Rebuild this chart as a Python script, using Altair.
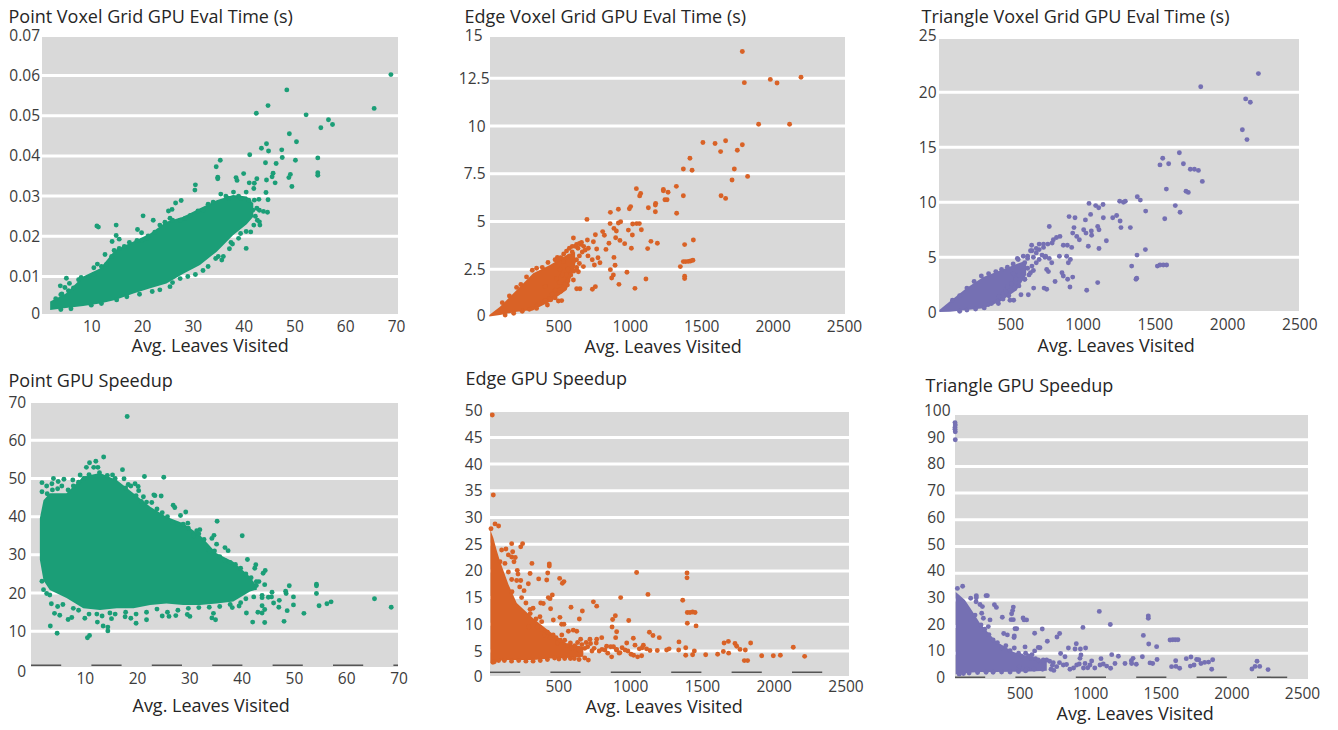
import altair as alt
import pandas as pd

FONT = "Open Sans"
LABEL_COLOR = "#3c3c3c"
TITLE_COLOR = "#262626"
GREEN = "#1B9E77"
ORANGE = "#D96226"
PURPLE = "#7570B3"
X_TITLE = "Avg. Leaves Visited"

P1_POINTS = [(69.0,.0602),(65.7,.0518),(48.5,.0564),(44.8,.0525),(42.5,.0506),(52.3,.0502),(56.7,.0490),(57.5,.0478),(55.2,.0470),(49.0,.0455),(50.4,.0435),(44.5,.0430),(43.5,.0419),(44.9,.0412),(47.5,.0415),(41.2,.0403),(47.6,.0396),(54.6,.0395),(50.2,.0389),(44.3,.0383),(46.4,.0381),(35.4,.0389),(34.6,.0373),(34.9,.0347),(34.9,.0343),(38.5,.0346),(38.7,.0339),(40.0,.0356),(45.8,.0357),(45.6,.0348),(54.6,.0358),(54.6,.0352),(49.2,.0354),(48.9,.0346),(49.5,.0324),(44.5,.0340),(42.6,.0343),(46.2,.0333),(41.1,.0333),(42.1,.0332),(30.5,.0328),(30.4,.0315),(44.4,.0309),(42,.0319),(44.8,.0291),(27.7,.0289),(26.6,.0283),(25.9,.0267),(25.2,.0263),(20.2,.0251),(22.2,.0240),(14.9,.0228),(11.1,.0226),(11.4,.0223),(14.9,.0202),(14.1,.0187),(15.5,.0193),(19.1,.0217),(19.9,.0209),(21.2,.0201),(12.7,.0155),(11.2,.0131),(10.5,.0122),(5.1,.0096),(3.9,.0077),(4.8,.0073),(5.7,.0083),(4.2,.0057),(40.5,.0170),(41.4,.0211),(43.1,.0236),(43.2,.0228),(25.5,.0075),(35.7,.0141),(37.2,.0169),(37.8,.0181),(39.4,.0207),(43.1,.0265),(44.7,.0260),(43.9,.0262),(42.6,.0270),(42.1,.029),(43,.0292),
(3,.0045),(4,.0055),(5.5,.0065),(6.5,.0072),(7.5,.0092),(8,.0098),(9.5,.0098),(10.5,.0105),(12,.0125),(13,.0130),(14,.0150),(14.5,.0165),(15.5,.0170),(16.5,.0175),(17.5,.0185),(19,.0190),(20,.0190),(21,.0195),(22.5,.0210),(23.5,.0228),(24.5,.0235),(25.5,.0245),(26,.0240),(27.5,.0240),(28.5,.0245),(29.5,.0252),(31,.0263),(32,.0265),(33,.0280),(34,.0285),(35.5,.0305),(36.5,.0300),(37,.0295),(38,.0310),(39,.0300),(39.5,.0295),(40.5,.0310),(41,.0290),(41.8,.0265),(42.3,.0250),(42.7,.0240),
(4,.0018),(6,.0020),(10,.0029),(12,.0033),(15,.0042),(17,.0050),(19.5,.0056),(22,.0063),(23.5,.0067),(26,.0085),(27.5,.0095),(29,.0100),(30.5,.0105),(32,.0115),(33,.0125),(34.5,.0145),(35,.0150),(36,.0150),(37.5,.0185),(39,.0195),(40.5,.0212),(42,.0228)]
P1_CORE = [(1.9,.0017,.0038),(5,.0022,.0058),(8.4,.0027,.0100),(11.7,.0033,.0120),(14.7,.0042,.0166),(18.3,.0058,.0187),(21.6,.0071,.0207),(24.8,.0083,.0236),(28.1,.0107,.0249),(31.4,.0129,.0270),(34.7,.0162,.0290),(37.9,.0203,.0303),(40.6,.0230,.0299),(41.9,.0249,.0282)]

P2_POINTS = [(1781,13.9),(1795,12.27),(1977,12.44),(2024,12.25),(2192,12.55),(1895,10.09),(2112,10.09),(1505,9.14),(1590,9.08),(1664,9.23),(1781,9.02),(1629,8.66),(1746,8.73),(1414,8.31),(1368,7.75),(1429,7.68),(1725,7.75),(1818,7.36),(1709,7.17),(1632,6.35),(1664,6.21),(1319,6.84),(1368,6.35),(1039,6.72),(1228,6.68),(1228,6.61),(1261,6.53),(1069,6.47),(1062,6.34),(1239,6.14),(1254,6.14),(1174,5.95),(1172,5.86),(1123,5.72),(999,5.78),(990,5.67),(913,5.64),(857,5.48),(1321,5.43),(1172,5.51),(693,5.11),(855,4.89),(913,4.92),(929,4.99),(1013,4.87),(1041,4.89),(1060,4.89),(983,4.55),(882,4.64),(899,4.50),(1074,4.57),(1011,4.29),(598,4.14),(752,4.31),(803,4.47),(815,4.28),(894,4.15),(924,4.01),(957,3.84),(847,3.86),(1004,3.60),(1118,3.58),(1141,3.96),(1186,3.86),(1438,4.03),(1377,3.79),(696,4.03),(738,3.94),(703,3.6),(761,3.56),(826,3.54),(882,3.12),(1384,2.9),(1403,2.91),(1419,2.93),(1435,2.97),(1368,2.9),(890,2.71),(1347,2.64),(857,2.48),(973,2.34),(878,2.2),(866,2.04),(1377,2.13),(1377,2.01),(1106,1.99),(917,1.71),(1029,1.5),(752,1.59),(731,1.45),(644,1.48),(621,1.48),(486,3.12),(784,2.84),(745,2.72),(668,2.64),(633,2.37),(598,1.94),(556,1.68),(516,.86),(493,.84),(416,.63),(345,.63),(306,.45),
(650,3.8),(630,3.6),(610,3.7),(590,3.4),(570,3.2),(640,3.2),(620,3.0),(600,2.9),(660,3.4),(680,3.5),(640,2.8),(590,2.6),(560,2.5),(620,2.6),(530,2.9),(550,2.2),(520,2.2),(505,2.5),(480,2.0),(500,1.8),(530,1.6),(470,1.4),(450,1.2),(510,1.35),(430,.95),(400,1.6),(700,3.2),(730,3.0),(770,3.1),
(100,.75),(150,1.1),(200,1.55),(230,1.7),(270,2.1),(310,2.45),(340,2.55),(380,2.6),(420,2.85),(470,3.0),(490,3.0),(510,3.1),(530,3.3),(550,3.45),(570,3.6),(590,3.7),(620,3.8),(640,3.85),(655,3.9),(670,3.7),
(120,.1),(180,.2),(240,.3),(290,.4),(340,.45),(360,.7),(400,.85),(440,.9),(470,1.0),(500,1.4),(520,1.5),(540,1.75),(560,1.9),(580,2.2),(600,2.4),(620,2.5)]
P2_CORE = [(9,.02,.10),(84,.10,.54),(201,.28,1.41),(317,.37,2.29),(434,.80,2.72),(551,1.41,3.25),(610,2.7,3.4)]

P3_POINTS = [(2217,21.7),(1818,20.5),(2129,19.4),(2161,19.1),(2106,16.6),(2138,15.7),(1670,14.5),(1555,14.0),(1536,13.4),(1596,13.5),(1698,13.5),(1746,13.0),(1774,13.0),(1802,12.9),(1829,11.9),(1580,11.2),(1716,11.0),(1732,10.9),(1642,9.7),(1675,9.1),(1569,8.5),(1379,10.5),(1400,10.2),(1437,9.2),(1257,10.1),(1283,10.0),(1296,10.1),(1045,9.9),(1091,9.7),(1112,9.5),(1142,9.8),(1056,8.9),(1020,8.4),(907,8.7),(948,8.6),(1144,8.6),(1209,8.6),(1236,8.8),(1260,8.3),(1266,7.7),(1331,7.7),(1105,7.8),(1114,7.5),(1165,6.5),(1008,7.5),(1024,7.2),(1061,7.4),(1063,7.0),(978,6.6),(960,6.9),(941,7.7),(932,7.2),(770,7.8),(1040,6.0),(1114,5.8),(1435,5.7),(1377,5.2),(1340,4.2),(1518,4.2),(1536,4.3),(1559,4.3),(1582,4.3),(1370,3.0),(1375,3.1),(1105,2.7),(1029,2.0),(913,2.3),(932,3.2),(897,3.0),(867,3.3),(858,3.6),(810,2.8),(902,4.5),(916,4.8),(890,5.1),(840,5.1),(925,5.9),(867,6.1),(895,6.1),(745,5.1),(787,4.5),(752,3.9),(764,3.7),(734,2.2),(752,2.1),(662,2.2),(625,1.6),(574,1.6),(524,1.1),(498,1.1),(418,.8),(348,.7),(549,4.9),(648,6.1),(798,6.6),(844,6.9),
(820,6.8),(790,6.3),(760,6.2),(730,5.9),(700,5.7),(680,5.4),(660,5.0),(640,5.6),(620,4.9),(600,4.5),(720,5.2),(740,5.0),(770,4.9),(700,4.8),(680,4.5),(650,4.2),(620,4.0),(590,3.8),(560,3.4),(540,3.0),(510,2.6),(480,2.3),(520,3.5),(600,3.0),(640,3.6),(450,1.7),(470,1.9),(420,1.4),
(100,1.1),(150,1.5),(200,2.2),(250,2.8),(300,3.3),(350,3.5),(400,3.7),(440,3.9),(480,4.1),(520,4.4),(555,4.8),(590,5.1),(620,5.1),(650,5.6),(680,5.8),(700,6.2),(730,6.2),
(150,.1),(200,.2),(260,.3),(320,.4),(370,.8),(410,1.0),(450,1.2),(490,1.5),(530,2.2),(560,2.4),(600,3),(630,3.4),(660,3.8)]
P3_CORE = [(9,.03,.21),(83,.06,1.0),(198,.2,2.2),(314,.36,3.2),(429,.97,3.8),(544,2.0,4.4),(610,3.4,4.7)]

P4_POINTS = [(18.3,66.2),(13.8,55.6),(12.3,54.5),(11.1,54.1),(10.5,52.9),(11.9,52.9),(12.7,52.9),(17.4,52.3),(21.6,50.5),(25.3,50.3),(2.0,48.9),(2.0,46.5),(2.9,48.0),(4.2,50),(3.9,48.6),(5.1,49.2),(5.8,48.0),(6.2,49.8),(7.9,49.6),(9.3,50.9),(15.5,50.9),(17.7,49.9),(18.5,48.4),(19.8,48.6),(20.4,47.9),(20.5,46.8),(24.8,45.4),(23.4,45.7),(21.4,45.2),(23.0,43.7),(23.6,45.5),(27.1,43.0),(27.4,42.4),(29.5,41.2),(28.5,40.3),(35.5,38.8),(29.9,38.3),(32.2,36.6),(31.6,36.3),(40.3,35.0),(34.9,35.1),(34.5,34.3),(35.4,32.8),(37.0,31.9),(37.6,31.1),(41.3,28.8),(42.9,27.4),(42.7,26.5),(44.7,25.9),(44.3,25.2),(44.6,22.2),(49.3,21.9),(54.5,22.3),(54.5,21.9),(54.5,19.9),(48.6,20.5),(48.7,19.9),(46.0,20.2),(50.1,19),(47.4,18.1),(45.9,19.0),(45.3,18.9),(44.1,19.4),(44.1,18.8),(65.6,18.5),(68.8,16.3),(57.3,17.7),(56.5,17.2),(55.0,16.7),(50.1,16.9),(52.1,14.7),(48.9,15.4),(47.3,16.3),(46.3,17.4),(44.6,15.7),(44.1,16.7),(44.1,14.8),(43.3,15),(41.1,14.8),(42.3,12.4),(44.6,12.3),(48.3,12.6),(39.7,16.6),(38.4,16.2),(35.2,13.0),(34.5,13.5),(34.8,14.7),(30.3,13.9),(29.8,14.4),(27.6,14.1),(26.3,13.9),(25,14),(22.0,13.0),(20,12.1),(19,13.4),(17.9,13.8),(15.3,13.3),(13.7,11.4),(14.6,11.1),(14.6,10.1),(12.6,12.4),(10.2,13.4),(11.1,8.9),(10.7,8.3),(4.9,9.5),(3.6,11.4),(4.4,14.7),(5.4,14.2),(3.8,17.2),(7.0,13.1),(7.7,13.6),(2.9,19.9),(3.5,19.5),(2.3,20.9),(2.0,23.1),
(5,16.5),(6,17),(8,16),(9,15.5),(11,14.5),(12.5,14.5),(13.5,14),(15,14.8),(16,14.5),(18,15),(20,14.5),(22,15),(24,15.8),(26,15),(28,15.5),(30,16),(32,16.2),(34,16.3),(36,16.5),(38,17),(40,17.5),(41,18.5),(42.5,19),(43,22),(43.5,23),
(3,46),(4,47),(5,47.3),(7,47),(8,48),(9,49),(10,50),(11,51),(13,51.5),(14.5,50.8),(16,50),(18,47.5),(19,48),(20,45.5),(21,44),(22,43.8),(24,42),(25,41),(26,40),(27,38.5),(28,38),(29,38),(30,37),(31,35),(32,35.5),(33,34),(34,31),(35,31),(36,29.5),(37,28.5),(38,28),(39,27.5),(40,26.5),(41,25),(42,24),(43,23)]
P4_CORE = [(1.6,28.7,39.6),(2.3,23.3,44.3),(3.5,20.8,46.1),(6.7,18.7,46.1),(9.9,16.0,50.5),(13.1,15.6,51.4),(16.3,16.0,49.6),(19.5,16.0,46.1),(22.7,16.9,42.6),(25.8,17.3,40.0),(29.0,16.9,38.3),(32.2,16.9,35.2),(35.4,17.3,30.4),(38.6,17.8,28.2),(41.8,20.4,24.3),(43.1,20.9,21.7)]

P5_POINTS = [(16,49.2),(23,34.2),(35,28.8),(60,28.4),(7,27.9),(151,25.1),(227,25.1),(214,24.5),(111,24.1),(81,23.9),(158,23.6),(128,23.0),(151,22.6),(176,22.5),(167,21.7),(292,21.4),(413,21.3),(413,20.9),(70,21.7),(104,21.4),(190,20.1),(195,19.4),(279,19.5),(402,19.6),(128,19.8),(485,18.6),(515,18.0),(504,17.7),(339,18.5),(395,18.3),(151,18.4),(186,18.2),(214,18.2),(267,17.6),(207,17.0),(237,16.3),(153,16.1),(418,14.8),(434,15.5),(406,15),(910,15.0),(1021,19.7),(1372,19.6),(1372,18.7),(1100,15.6),(1342,14.5),(720,14.2),(743,13.4),(564,13.2),(643,12.5),(353,14.0),(371,13.9),(422,12.9),(279,12.8),(1374,12.2),(1393,12.2),(1411,12.3),(1428,12.2),(873,11.6),(854,10.9),(622,11.0),(966,10.7),(487,11.3),(348,11.4),(1374,10.2),(1435,9.7),(850,9.5),(499,10),(515,10),(441,10.8),(882,8.6),(1110,8.5),(1135,7.9),(1179,7.5),(875,7.5),(778,7.5),(580,8.9),(546,8.7),(604,8.7),(998,7.4),(743,7.2),(696,7.2),(631,7.2),(1316,6.7),(1660,6.8),(1630,6.5),(1815,6.5),(1706,6.4),(1718,5.9),(1741,5.3),(1778,5.2),(2112,5.7),(952,6.5),(1010,6.1),(1068,6.1),(1363,5.6),(1230,5.2),(1114,5.1),(1165,5.1),(1314,5.2),(1247,5.4),(882,5.3),(812,5.9),(1625,4.9),(1662,4.6),(1423,5.0),(1411,4.3),(1363,4.2),(1502,4.3),(1585,4.4),(1892,4.1),(1973,4.1),(2022,4.2),(2191,4.0),(1771,3.2),(1794,3.2),(1056,4.1),(1028,3.9),(982,4.4),(905,4.7),(847,3.9),(685,3.3),(587,3.6),
(330,9.5),(360,9),(380,8),(400,8.5),(420,7.5),(440,8),(460,7.5),(470,6.5),(490,7),(500,8),(520,7),(540,6),(560,6.5),(570,5.5),(590,6),(610,6.6),(620,5.2),(640,6.2),(660,5.5),(670,6.6),(680,5.8),(700,6.4),(710,5),(725,5.5),(740,6.5),(760,5),(780,5.3),(800,5.2),(820,4.6),(840,5.8),(860,5.8),(880,5.2),(900,4.6),(920,5.6),(940,5.2),(960,5),(1000,4.2),(1040,5.4),(1060,5.6),(1090,5.4),(280,12),(320,11),(360,10.5),(300,13),(250,14),(220,15),(270,9.5),
(20,2.9),(30,3),(60,3.2),(100,3.2),(150,3.1),(200,3.2),(250,3.1),(300,3.1),(350,3.2),(400,3.4),(450,3.7),(480,3.5),(520,3.6),(560,3.6),(620,3.4),(660,3.7)]
P5_CORE = [(3,3.0,27.6),(23,2.9,26.2),(45,3.0,24),(70,3.2,21.8),(128,3.3,17.5),(186,3.3,14),(302,3.3,11.1),(418,3.6,8.6),(534,3.7,6.4),(650,3.9,5.8)]

P6_POINTS = [(0,96.4),(2,95.5),(0,94.6),(0,93.9),(2,93),(2,90),(54,35.1),(17,34.3),(220,31.6),(229,31.6),(151,31.6),(151,30.8),(111,30.6),(279,28.2),(293,27.2),(413,27.3),(408,26.0),(401,24.8),(149,29.3),(177,28.3),(194,27.5),(1022,25.7),(1369,24.0),(1369,23.1),(1100,20.8),(906,19.7),(335,23.5),(397,22.6),(413,22.6),(482,23.2),(507,22.5),(489,22.5),(142,24.3),(189,25.0),(201,23.1),(184,20.6),(248,22.5),(236,20),(425,19.2),(437,19.2),(618,19.1),(741,17.4),(722,16.1),(564,17.5),(345,17.4),(371,16.9),(420,16.5),(418,15.9),(1334,16.7),(654,14.5),(859,13.6),(1372,13.5),(1428,12.5),(1523,15),(1542,15.1),(1560,15.1),(1579,15.1),(803,12),(850,11.6),(888,11.6),(925,12),(590,12.2),(602,12.1),(496,12.4),(564,10.9),(748,9.9),(779,8.7),(1110,9.5),(1157,8.9),(892,9.4),(885,8.1),(1327,8.7),(1431,7.7),(1261,8.1),(1249,7.2),(1034,8),(968,7.1),(1638,8),(1671,8.6),(1711,7.7),(1726,7.6),(1825,7.6),(1796,6.7),(1768,6.6),(1742,6.2),(1563,7.2),(2139,7),(2158,5.1),(2125,5.1),(2103,4.1),(2217,3.9),(1818,4),(1693,5.6),(1667,5.2),(1591,4.4),(1565,5.1),(1534,5),(1381,6.4),(1400,6.2),(1284,5.9),(1251,6.2),(1204,6.2),(1133,6.2),(1102,4.4),(1074,5.2),(1027,5.6),(956,5.6),(921,6.2),(862,5.6),(814,4),(767,5.6),(696,6.5),(649,7.5),(602,6.9),(543,8.1),
(300,14),(330,12),(360,12.8),(390,11),(420,12),(450,10),(470,9),(500,10),(520,9),(545,9.5),(570,8),(590,7.5),(625,7.5),(670,7),(690,5.5),(720,5),(740,6.5),(790,5.8),(840,4.5),(880,6),(910,4.5),(940,4.6),(990,4.5),(1050,6),(270,15),(240,17),(210,19),(455,5),(510,4),(560,4),(620,4),(680,4),(700,3.6),(450,3.2),(500,3.4),(30,2.2),(60,2.4),(100,2.6),(160,2.8),(220,2.9),(270,2.9),(330,3),(390,3)]
P6_CORE = [(5,2.2,33),(30,2.4,31.8),(70,2.5,30),(120,2.8,26),(180,3,21),(290,3,14.5),(410,3.1,10.6),(530,3.2,8.7),(650,3.5,6.9)]

X_TICKS_A = [10,20,30,40,50,60,70]
X_TICKS_B = [500,1000,1500,2000,2500]
Y_TICKS = [
    [0,.01,.02,.03,.04,.05,.06,.07],
    [0,2.5,5,7.5,10,12.5,15],
    [0,5,10,15,20,25],
    [0,10,20,30,40,50,60,70],
    [0,5,10,15,20,25,30,35,40,45,50],
    [0,10,20,30,40,50,60,70,80,90,100],
]
GRID = [
    [.01,.02,.03,.04,.05,.06],
    [2.5,5,7.5,10,12.5],
    [5,10,15,20],
    [10,20,30,40,50,60],
    [5,10,15,20,25,30,35,40,45],
    [10,20,30,40,50,60,70,80,90],
]
TITLES = ["Point Voxel Grid GPU Eval Time (s)","Edge Voxel Grid GPU Eval Time (s)","Triangle Voxel Grid GPU Eval Time (s)",
          "Point GPU Speedup","Edge GPU Speedup","Triangle GPU Speedup"]

# layout in page pixels
OX = 8
W, H = 1322, 720
LAYOUT = [
 dict(box=(42,398,37,314),  xr=(40.5,396), xd=(0,70),   yr=(316.8,35.2), yd=(0,.07), lab=39.5, xoff=0,  yoffs={0:-3.5},        ypads={},             tx=8,  ty=22.5,xtx=131, xty=351.5, xlab=14, dash=None),
 dict(box=(490,845,37,314), xr=(488,845),  xd=(0,2500), yr=(317,30.5),   yd=(0,15),  lab=485,  xoff=-1, yoffs={0:-2,15:4.5},   ypads={12.5:1,15:8},  tx=464,ty=22.5,xtx=584,xty=352.5, xlab=14, dash=None),
 dict(box=(939,1299,39,311),xr=(938,1299.3),xd=(0,2500),yr=(312.3,37.3), yd=(0,25),  lab=936,  xoff=0,  yoffs={25:-2},         ypads={},             tx=921,ty=22.5,xtx=1037,xty=351.5,xlab=15, dash=None),
 dict(box=(31,398,403,667), xr=(31.5,397.5),xd=(0,70),  yr=(669.5,402),  yd=(0,70),  lab=25.7, xoff=1,  yoffs={0:1.5},         ypads={},             tx=8,  ty=386, xtx=132,xty=711, xlab=13, dash=665.3),
 dict(box=(490,849,412,676),xr=(490,849),  xd=(0,2500), yr=(677.7,410.7),yd=(0,50),  lab=482,  xoff=-3.5,yoffs={0:-1},         ypads={},             tx=465,ty=384, xtx=585,xty=712.5, xlab=12, dash=672.3),
 dict(box=(955,1308,415,679),xr=(955,1308),xd=(0,2500), yr=(680,413),    yd=(0,100), lab=944.5,xoff=-6, yoffs={},              ypads={100:5},        tx=925,ty=391, xtx=1056,xty=719,xlab=16, dash=677.3, yall=-2.5),
]
COLORS = [GREEN, ORANGE, PURPLE, GREEN, ORANGE, PURPLE]
POINTS = [P1_POINTS,P2_POINTS,P3_POINTS,P4_POINTS,P5_POINTS,P6_POINTS]
CORES = [P1_CORE,P2_CORE,P3_CORE,P4_CORE,P5_CORE,P6_CORE]
X_TICKS = [X_TICKS_A,X_TICKS_B,X_TICKS_B,X_TICKS_A,X_TICKS_B,X_TICKS_B]
LABEL_TEXT = "'' + datum.value"


def cond(mapping, default):
    conds = [{"test": f"datum.value==={k}", "value": v} for k, v in mapping.items()]
    return {"condition": conds, "value": default} if conds else default


def panel(i):
    L = LAYOUT[i]
    l, r, t, b = [v - OX for v in L["box"]]
    xs = alt.Scale(domain=list(L["xd"]), range=[v - OX for v in L["xr"]], nice=False, zero=False)
    ys = alt.Scale(domain=list(L["yd"]), range=[v - OX for v in L["yr"]], nice=False, zero=False)
    y_off = cond(L["yoffs"], L.get("yall", 0))
    y_pad = cond(L["ypads"], l + OX - L["lab"])

    one = pd.DataFrame({"a": [0]})
    bg = alt.Chart(one).mark_rect(color="#D9D9D9").encode(
        x=alt.value(l), x2=alt.value(r), y=alt.value(t), y2=alt.value(b))

    y_axis = alt.Axis(orient="left", offset=-l, values=Y_TICKS[i], labelExpr=LABEL_TEXT, grid=False, domain=False, ticks=False,
                      labelFont=FONT, labelFontSize=15.5, labelColor=LABEL_COLOR, labelPadding=y_pad,
                      labelOffset=y_off, labelOverlap=False, labelFlush=False,
                      title=TITLES[i], titleFont=FONT, titleFontSize=18, titleFontWeight="normal", titleColor=TITLE_COLOR,
                      titleAngle=0, titleAlign="left", titleBaseline="alphabetic",
                      titleX=L["tx"] - OX - l, titleY=L["ty"] - OX)
    grid = alt.Chart(pd.DataFrame({"v": GRID[i]})).mark_rule(color="white", strokeWidth=3).encode(
        y=alt.Y("v:Q", scale=ys, axis=y_axis), x=alt.value(l), x2=alt.value(r))

    layers = [bg, grid]
    if L["dash"]:
        layers.append(alt.Chart(one).mark_rule(color="#555555", strokeWidth=1.5, strokeDash=[30.2, 30.2]).encode(
            y=alt.value(L["dash"] - OX), x=alt.value(l), x2=alt.value(r)))

    x_axis = alt.Axis(orient="bottom", offset=b - (H), values=X_TICKS[i], labelExpr=LABEL_TEXT, grid=False, domain=False, ticks=False,
                      labelFont=FONT, labelFontSize=15.5, labelColor=LABEL_COLOR, labelPadding=L["xlab"] - 9,
                      labelOffset=L["xoff"], labelOverlap=False, labelFlush=False,
                      title=X_TITLE, titleFont=FONT, titleFontSize=18, titleFontWeight="normal", titleColor=TITLE_COLOR,
                      titleAlign="left", titleBaseline="alphabetic",
                      titleX=L["xtx"] - OX, titleY=L["xty"] - OX - b)
    core = pd.DataFrame(CORES[i], columns=["x", "lo", "hi"])
    layers.append(alt.Chart(core).mark_area(color=COLORS[i], opacity=1).encode(
        x=alt.X("x:Q", scale=xs, axis=x_axis),
        y=alt.Y("lo:Q", scale=ys, axis=y_axis), y2="hi:Q"))
    pts = pd.DataFrame(POINTS[i], columns=["x", "y"])
    layers.append(alt.Chart(pts).mark_circle(color=COLORS[i], opacity=1, size=24).encode(
        x=alt.X("x:Q", scale=xs, axis=x_axis), y=alt.Y("y:Q", scale=ys, axis=y_axis)))
    return alt.layer(*layers)


chart = alt.layer(*[panel(i) for i in range(6)]).resolve_scale(x="independent", y="independent").resolve_axis(
    x="independent", y="independent"
).properties(width=W, height=H, padding=0, autosize=alt.AutoSizeParams(type="none"), background="white"
).configure_view(stroke=None)

chart.save("out.html", embed_options={"renderer": "svg", "actions": False})
